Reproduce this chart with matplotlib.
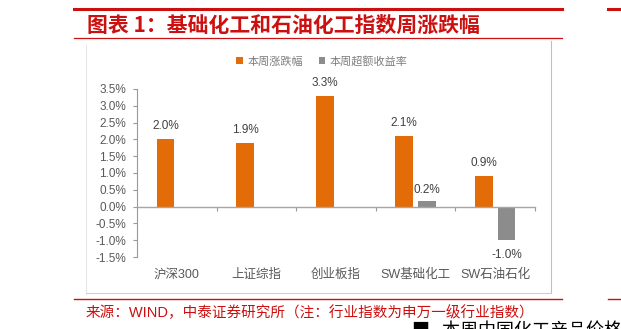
import numpy as np
import matplotlib.pyplot as plt
from matplotlib.lines import Line2D
from matplotlib.transforms import blended_transform_factory

# Daten
kategorien = ['沪深300', '上证综指', '创业板指', 'SW基础化工', 'SW石油石化']
zhangdiefu = [2.0, 1.9, 3.3, 2.1, 0.9]            # 本周涨跌幅 (%)
chaoe = [np.nan, np.nan, np.nan, 0.16, -1.0]       # 本周超额收益率 (%)
yticks = [-1.5, -1.0, -0.5, 0.0, 0.5, 1.0, 1.5, 2.0, 2.5, 3.0, 3.5]

W, H = 621, 329
ORANGE = '#E36C09'
GRAU = '#8C8C8C'
ROT = '#CC1010'

plt.rcParams['font.family'] = ['Liberation Sans', 'Noto Sans CJK SC', 'DejaVu Sans']


def fx(px):
    return px / W


def fy(py):
    return 1 - py / H


def linie(fig, x0, x1, y0, y1, farbe, lw):
    fig.add_artist(Line2D([fx(x0), fx(x1)], [fy(y0), fy(y1)], color=farbe,
                          lw=lw, transform=fig.transFigure))


fig = plt.figure(figsize=(W / 100, H / 100), dpi=100)
ax = fig.add_axes([fx(137), fy(257), fx(535) - fx(137), fy(89) - fy(257)])

x = np.arange(len(kategorien))
breite = 0.226
versatz = 0.142
b1 = ax.bar(x - versatz, zhangdiefu, breite, color=ORANGE, label='本周涨跌幅')
b2 = ax.bar(x + versatz, chaoe, breite, color=GRAU, label='本周超额收益率')

# Datenbeschriftungen
for xi, v in zip(x, zhangdiefu):
    ax.annotate(f'{v:.1f}%', (xi - versatz, v), xytext=(0, 5),
                textcoords='offset points', ha='center', va='bottom',
                fontsize=8.5, color='#404040')
for xi, v in zip(x, chaoe):
    if np.isnan(v):
        continue
    if v >= 0:
        ax.annotate(f'{v:.1f}%', (xi + versatz, v), xytext=(0, 4),
                    textcoords='offset points', ha='center', va='bottom',
                    fontsize=8.5, color='#404040')
    else:
        ax.annotate(f'{v:.1f}%', (xi + versatz, v), xytext=(0, -6),
                    textcoords='offset points', ha='center', va='top',
                    fontsize=8.5, color='#404040')

ax.set_xlim(-0.5, len(kategorien) - 0.5)
ax.set_ylim(-1.5, 3.5)
ax.set_yticks(yticks)
ax.set_yticklabels([f'{t:.1f}%' for t in yticks])
ax.tick_params(axis='y', direction='out', length=3, width=0.8,
               color='#999999', labelcolor='#595959', labelsize=8.5, pad=5)

# Achsen
for s in ['top', 'right']:
    ax.spines[s].set_visible(False)
ax.spines['bottom'].set_position(('data', 0))
ax.spines['left'].set_color('#999999')
ax.spines['bottom'].set_color('#A6A6A6')
ax.spines['left'].set_linewidth(0.8)
ax.spines['bottom'].set_linewidth(1.0)
ax.set_xticks(np.arange(len(kategorien)) + 0.5)
ax.set_xticklabels([])
ax.tick_params(axis='x', direction='out', length=3, width=0.8, color='#999999')

trans = blended_transform_factory(ax.transData, ax.transAxes)
for xi, name in zip(x, kategorien):
    ax.text(xi, -0.107, name, transform=trans, ha='center', va='center',
            fontsize=9, color='#595959')

fig.legend(handles=[b1, b2], loc='center',
           bbox_to_anchor=(fx(322), fy(61)), ncol=2, frameon=False,
           handlelength=0.6, handleheight=0.6,
           handletextpad=0.4, columnspacing=1.4, labelcolor='#7F7F7F',
           prop={'family': ['Noto Sans CJK SC'], 'size': 8})

# Rahmen des Diagramms
linie(fig, 86, 86, 45, 293, '#E6E6E6', 0.8)
linie(fig, 551, 551, 41, 293, '#BFBFBF', 0.8)
linie(fig, 86, 551, 293, 293, '#D0D0D0', 0.8)

# Rote Linien der Seite
linie(fig, 74, 562, 8.5, 8.5, ROT, 2.2)
linie(fig, 608, 621, 8.5, 8.5, ROT, 2.2)
linie(fig, 74, 562, 37.7, 37.7, ROT, 0.9)
linie(fig, 74, 562, 298.5, 298.5, ROT, 1.0)
linie(fig, 608, 621, 298.5, 298.5, ROT, 1.0)

# Ueberschrift und Quelle
fig.text(fx(87), fy(25), '图表 1：基础化工和石油化工指数周涨跌幅',
         ha='left', va='center', fontsize=15, fontweight='bold', color=ROT,
         family=['Noto Sans CJK SC'])
fig.text(fx(86), fy(313), '来源：WIND，中泰证券研究所（注：行业指数为申万一级行业指数）',
         ha='left', va='center', fontsize=10.5, color=ROT,
         family=['Liberation Sans', 'Noto Sans CJK SC'])
fig.text(fx(412), fy(322), '■   本周中国化工产品价格', ha='left', va='top',
         fontsize=13, color='black', family=['Noto Sans CJK SC'])

fig.savefig('out.png', dpi=100)
